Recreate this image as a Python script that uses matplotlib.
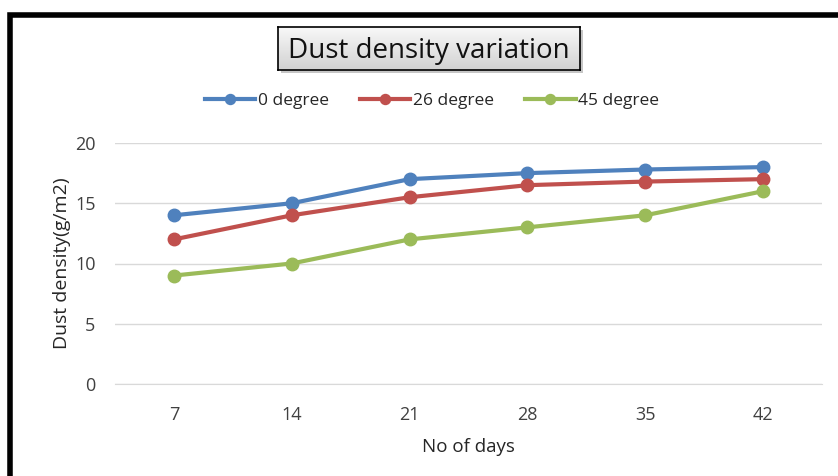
import matplotlib
matplotlib.use("Agg")
import matplotlib.pyplot as plt
from matplotlib.patches import Rectangle
import numpy as np

days = ["7", "14", "21", "28", "35", "42"]
deg0 = [14, 15, 17, 17.5, 17.8, 18]
deg26 = [12, 14, 15.5, 16.5, 16.8, 17]
deg45 = [9, 10, 12, 13, 14, 16]
series_names = ["0 degree", "26 degree", "45 degree"]
colors = ["#4F81BD", "#C0504D", "#9BBB59"]

plt.rcParams['font.family'] = ['Open Sans', 'DejaVu Sans']

W, H = 838, 476
fig = plt.figure(figsize=(W/100, H/100), dpi=100)
ax = fig.add_axes([115/W, 1-384/H, 707/W, (384-143)/H])

x = np.arange(len(days))
for vals, name, c in zip([deg0, deg26, deg45], series_names, colors):
    ax.plot(x, vals, color=c, lw=3, marker='o', ms=9, label=name)

ax.set_xlim(-0.5, len(days)-0.5)
ax.set_ylim(0, 20)
ax.set_yticks([0, 5, 10, 15, 20])
ax.set_xticks(x)
ax.set_xticklabels(days)
ax.grid(axis='y', color='#D9D9D9', lw=1)
ax.set_axisbelow(True)
for s in ['top', 'right', 'left']:
    ax.spines[s].set_visible(False)
ax.spines['bottom'].set_color('#D9D9D9')
ax.tick_params(length=0, labelsize=13, colors='#404040')
ax.tick_params(axis='x', pad=16)
ax.tick_params(axis='y', pad=14)
ax.set_xlabel("No of days", fontsize=13.5, color='#262626', labelpad=10)
ax.set_ylabel("Dust density(g/m2)", fontsize=14, color='#262626', labelpad=3)

leg = fig.legend(loc='center', bbox_to_anchor=(432/W, 1-101/H), ncol=3, frameon=False,
                 fontsize=12.5, handlelength=2.9, columnspacing=1.8, handletextpad=0.15,
                 markerscale=0.8)
for t in leg.get_texts():
    t.set_color('#262626')

# outer border
fig.add_artist(Rectangle((10/W, -0.1), 1.2, 1+0.1-15/H, transform=fig.transFigure,
                         fill=False, edgecolor='black', lw=4, zorder=10))

# title box with shadow
bx, by, bw, bh = 278/W, 1-70/H, 302/W, 43/H
fig.add_artist(Rectangle((bx+3/W, by-3/H), bw, bh, transform=fig.transFigure,
                         facecolor='#a0a0a0', edgecolor='none', alpha=0.6, zorder=-1))
grad = np.linspace(1, 0, 64).reshape(-1, 1)
gax = fig.add_axes([bx, by, bw, bh])
gax.set_zorder(5)
gax.imshow(grad, aspect='auto',
           cmap=matplotlib.colors.LinearSegmentedColormap.from_list('g', ['#d2d2d2', '#f8f8f8']),
           extent=[0, 1, 0, 1])
gax.set_xticks([]); gax.set_yticks([])
for s in gax.spines.values():
    s.set_linewidth(1.2); s.set_color('black')
gax.text(0.5, 0.44, "Dust density variation", ha='center', va='center', fontsize=20,
         color='#111111', transform=gax.transAxes)

fig.savefig("out.png", dpi=100)
